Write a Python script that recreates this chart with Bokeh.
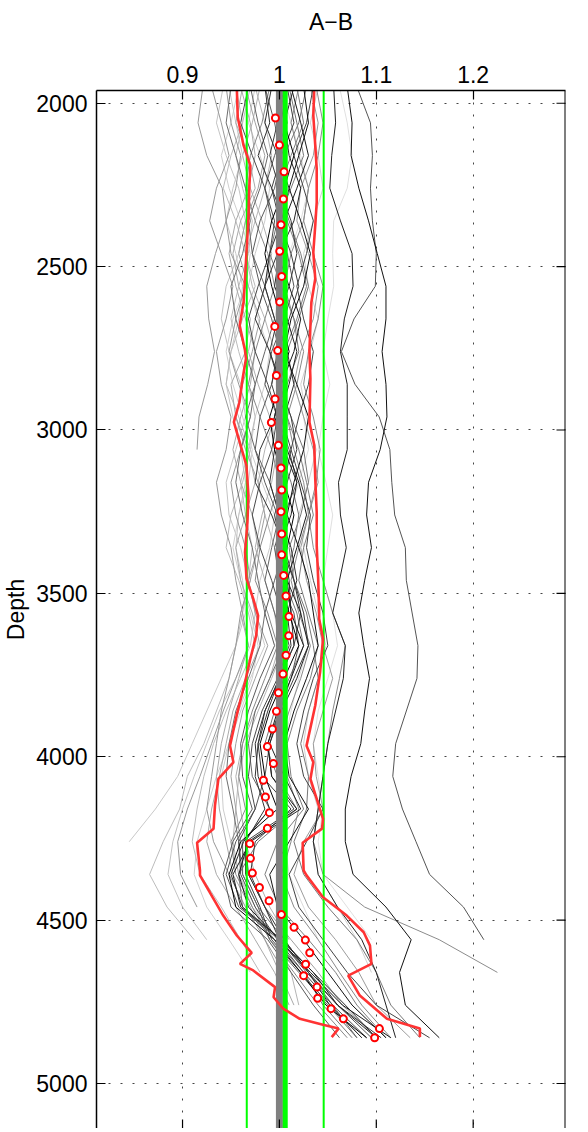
import math
from bokeh.plotting import figure
from bokeh.models import Range1d, FixedTicker, CustomJSTickFormatter, Span
from bokeh.embed import file_html
from bokeh.resources import INLINE

# ---------------- data ----------------
depth_grid = [1950, 2060, 2160, 2260, 2360, 2460, 2560, 2660, 2760, 2860,
              2960, 3060, 3160, 3260, 3360, 3460, 3560, 3660, 3760, 3860,
              3960, 4060, 4160, 4260, 4360, 4460, 4560, 4660, 4760, 4860]

# profile values (A/B ratio x 1000) on depth_grid; None = no data
B01 = [985,990,978,992,1005,998,985,975,990,1002, 995,980,975,992,1005,1010,1012,1015,1000,985, 978,975,985,965,968,985,1005,1030,1052,1085]
B02 = [1010,1018,1025,1012,998,990,1002,1015,1020,1008, 995,1000,1012,1020,1015,1005,1018,1025,1010,995, 985,998,1018,978,958,962,995,1025,1045,1075]
B03 = [962,955,968,975,960,952,958,970,965,950, 955,968,975,965,955,960,972,980,965,952, 945,938,930,925,935,955,975,995,1010,None]
B04 = [1025,1030,1020,1010,1022,1032,1025,1012,1005,1018, 1030,1025,1015,1008,1020,1030,1035,1040,1028,1015, 1005,1010,1030,1010,990,998,1025,1050,1075,1110]
B05 = [945,950,960,955,945,950,965,955,948,958, 970,960,950,955,965,970,960,955,948,940, 935,930,925,932,948,965,985,1005,None,None]
B06 = [1000,1008,995,985,992,1008,1015,1005,992,985, 998,1010,1018,1005,995,1000,1015,1020,1012,1000, 990,985,975,955,945,958,1000,1028,1060,1095]
B07 = [975,968,980,990,985,975,968,978,990,985, 975,970,982,995,990,980,975,985,970,958, 948,940,942,950,958,975,990,None,None,None]
B08 = [1035,1028,1015,1025,1035,1028,1018,1025,1035,1030, 1020,1012,1022,1032,1028,1035,1045,1050,1035,1025, 1018,1025,1045,1028,1010,1020,1045,1070,1100,1155]
B09 = [990,982,970,965,975,988,995,985,975,968, 980,992,1000,990,980,975,988,998,985,972, 962,958,965,950,955,972,990,1015,1040,1070]
B10 = [955,962,950,942,955,965,975,962,950,945, 958,970,962,950,945,958,968,975,960,945, 932,922,915,910,918,940,960,980,None,None]
B11 = [1015,1005,1010,1022,1015,1000,995,1008,1018,1010, 1000,1005,1018,1012,1000,1008,1022,1030,1018,1002, 990,1005,1022,970,952,960,1002,1035,1060,1100]
B12 = [970,978,988,980,968,972,985,995,985,975, 965,975,990,1000,992,985,995,1005,990,975, 968,972,990,962,962,978,990,1020,1050,1080]
B13 = [1040,1032,1040,1045,1035,1025,1030,1040,1032,1022, 1028,1038,1030,1020,1025,1032,1040,1048,1040,1030, 1025,1030,1040,1035,1040,1060,1080,1095,None,None]
B14 = [930,940,948,935,928,940,952,945,935,940, 950,945,935,940,950,955,962,968,955,942, 930,918,905,895,898,915,None,None,None,None]
B15 = [998,1005,1015,1005,992,985,992,1002,1010,1000, 990,995,1005,1015,1008,1000,1010,1020,1005,990, 980,985,998,960,948,955,995,1022,1048,1090]
B16 = [1028,1020,1005,998,1010,1022,1030,1020,1008,1000, 1012,1025,1030,1022,1010,1015,1028,1035,1040,1030, 1022,1030,1028,1015,1025,1050,1080,1100,1115,1145]
B17 = [960,970,975,968,955,948,955,965,975,970, 960,952,960,972,978,970,960,968,958,948, 940,935,938,945,952,970,985,1000,1015,None]
B18 = [1005,998,990,1000,1012,1018,1010,998,990,1000, 1012,1018,1008,998,1005,1015,1022,1015,1000,988, 978,982,1012,975,970,985,1000,1030,1060,1105]
B19 = [942,935,945,958,965,958,945,940,948,960, 965,955,945,948,960,968,975,970,955,938, 925,912,900,890,885,900,925,None,None,None]
B20 = [985,995,1002,995,980,972,980,992,1000,992, 980,975,985,998,1005,995,985,995,980,968, 960,962,972,952,942,950,988,1012,1035,1062]
B21 = [1020,1012,1020,1030,1025,1012,1005,1015,1025,1018, 1008,1015,1025,1030,1020,1012,1020,1032,1022,1010, 1000,1008,1020,1012,1002,1015,1040,1062,1085,1115]
B22 = [975,985,992,985,975,965,972,985,995,1002, 995,985,978,985,995,1002,1010,1005,992,978, 965,958,955,952,958,972,995,1012,1020,None]
B23 = [1012,1022,1030,1018,1005,998,1010,1022,1015,1002, 995,1008,1020,1028,1018,1008,1012,1025,1012,998, 988,992,1018,968,958,968,1000,1032,1065,1115]
B24 = [950,945,955,965,970,962,950,955,965,975, 970,960,955,962,972,978,985,980,968,955, 948,945,952,958,962,978,1005,1030,1055,1080]
B25 = [1002,1012,1022,1030,1022,1010,1002,995,1005,1015, 1025,1030,1020,1010,1005,1015,1025,1030,1020,1012, 1005,1000,1002,1005,1010,1025,1040,None,None,None]
B26 = [968,960,972,985,995,990,978,968,975,988, 998,992,980,972,980,992,1002,1010,998,982, 972,968,975,958,960,975,998,1025,1055,1090]
B27 = [1032,1040,1035,1022,1018,1030,1040,1035,1022,1015, 1025,1035,1040,1030,1022,1028,1038,1045,1055,1045, 1035,1038,1045,1025,1015,1030,1058,1082,1100,1135]
B28 = [958,950,940,948,960,970,965,952,945,952, 962,972,968,958,952,960,970,978,972,960, 948,935,925,915,912,925,948,970,None,None]
B29 = [992,985,998,1010,1002,990,985,995,1008,1015, 1005,995,990,1000,1012,1018,1008,1012,1000,985, 975,978,990,963,950,962,1002,1035,1068,1100]
B30 = [1018,1025,1012,1000,1008,1020,1028,1018,1005,998, 1008,1020,1028,1035,1025,1020,1030,1040,1032,1018, 1008,1012,1025,998,985,1000,1030,1058,1080,1110]
B31 = [980,972,962,970,982,992,985,975,968,978, 990,998,992,982,975,985,995,1000,990,975, 962,955,960,965,975,990,1010,None,None,None]
B32 = [1008,1015,1002,992,1000,1012,1020,1010,998,992, 1002,1012,1005,995,1002,1015,1025,1030,1015,1000, 988,992,1015,965,965,980,992,1022,1052,1085]
B33 = [965,975,985,978,965,958,968,980,972,962, 955,965,978,985,978,968,975,988,975,962, 955,950,955,960,968,985,1012,1040,1065,1100]
B34 = [1062,1070,1075,1070,1056,1055,1056,1050,1045,1052, 1045,1040,1048,1055,1050,1045,1055,1060,1050,1040, 1035,1040,1045,1040,1045,1070,1095,None,None,None]
K1 = [1070,1075,1074,1082,1092,1101,1110,1110,1106,1110, 1111,1104,1092,1090,1095,1088,1082,1087,1093,1088, 1084,1074,1068,1068,1076,1110,1136,1124,1130,1165]
K2 = [1080,1094,1096,1094,1096,1100,1099,1077,1064,1078, 1103,1114,1116,1119,1130,1131,1137,1143,1142,1131, 1120,1117,1127,1141,1155,1190,1211,None,None,None]
K3 = [1056,1058,1054,1052,1063,1075,1076,1067,1063,1070, 1070,1070,1061,1063,1069,1062,1055,1068,1066,1058, 1050,1045,1040,1035,1040,1060,1085,1100,1110,1120]
G3 = [1038,1045,1040,1030,1025,1035,1045,1040,1030,1025, 1035,1042,1038,1030,1035,1045,1055,1068,1062,1055, 1050,1045,1040,1035,1045,1088,1165,1225,None,None]
A1 = [948,955,962,952,945,955,962,958,950,945, 952,960,965,958,955,962,965,955,940,925, 910,895,872,845,None,None,None,None,None,None]
A2 = [970,962,955,962,972,968,958,950,958,968, 975,968,960,965,972,968,962,955,948,935, 922,905,897,880,866,884,912,None,None,None]
G4 = [921,916,925,941,945,934,925,927,933,926, 917,915,None,None,None,None,None,None,None,None, None,None,None,None,None,None,None,None,None,None]

profiles = [B07, B13, B25, B34, B19, B28, A1, A2, B10, B22, B31, B03, B17, B33,
            B05, B14, G4, B27, B09, B21, G3, B02, B16, B30, B24, B12, B20, B06,
            B26, K2, B08, B32, B18, B01, B29, B11, B23, B04, B15, K1, K3]
profile_colors = ["#cccccc", "#d0d0d0", "#dcdcdc", "#e0e0e0", "#c4c4c4", "#cfcfcf", "#c8c8c8", "#bcbcbc",
                  "#bbbbbb", "#b5b5b5", "#b0b0b0", "#aaaaaa", "#aaaaaa", "#a0a0a0", "#999999", "#999999",
                  "#999999", "#9c9c9c", "#888888", "#8a8a8a", "#8c8c8c", "#777777", "#777777", "#7e7e7e",
                  "#6e6e6e", "#666666", "#5a5a5a", "#555555", "#4a4a4a", "#555555", "#444444", "#404040",
                  "#3a3a3a", "#333333", "#2e2e2e", "#222222", "#1a1a1a", "#111111", "#000000", "#111111",
                  "#222222"]

# 10th / 90th percentile envelopes
lo_depth = [1950, 2043, 2129, 2191, 2252, 2354, 2456, 2537, 2609, 2680, 2757, 2782, 2843, 2915,
            2976, 3037, 3109, 3200, 3282, 3374, 3455, 3517, 3568, 3629, 3700, 3772, 3872, 3966,
            4017, 4068, 4149, 4220, 4263, 4348, 4363, 4414, 4486, 4547, 4600, 4634, 4654, 4705,
            4736, 4771, 4802, 4820, 4832, 4858]
lo_x = [0.956, 0.957, 0.963, 0.970, 0.969, 0.968, 0.966, 0.9645, 0.963, 0.959, 0.9645, 0.9655, 0.962, 0.9587,
        0.953, 0.959, 0.966, 0.968, 0.967, 0.9645, 0.966, 0.973, 0.978, 0.976, 0.970, 0.9645, 0.956, 0.949,
        0.9525, 0.937, 0.9335, 0.932, 0.915, 0.918, 0.918, 0.928, 0.942, 0.956, 0.9714, 0.9593, 0.973, 0.9955,
        0.994, 1.004, 1.021, 1.045, 1.061, 1.054]
hi_depth = [1950, 2038, 2129, 2201, 2303, 2374, 2456, 2537, 2609, 2680, 2757, 2843, 2976, 3047,
            3149, 3252, 3354, 3455, 3552, 3578, 3639, 3741, 3843, 3966, 4017, 4068, 4129, 4190,
            4220, 4263, 4348, 4363, 4430, 4486, 4537, 4578, 4634, 4670, 4731, 4802, 4832, 4858]
hi_x = [1.036, 1.035, 1.037, 1.0385, 1.0385, 1.037, 1.035, 1.037, 1.033, 1.032, 1.031, 1.032, 1.031, 1.036,
        1.037, 1.0385, 1.0385, 1.040, 1.041, 1.041, 1.045, 1.042, 1.037, 1.028, 1.035, 1.032, 1.0385, 1.045,
        1.044, 1.024, 1.025, 1.028, 1.045, 1.0695, 1.087, 1.0935, 1.095, 1.071, 1.083, 1.111, 1.145, 1.145]

# median points
med_depth = [2045, 2128, 2210, 2293, 2372, 2453, 2530, 2608, 2683, 2757, 2833, 2905, 2977, 3047,
             3116, 3184, 3250, 3318, 3382, 3445, 3508, 3571, 3630, 3689, 3747, 3804, 3861, 3915,
             3969, 4021, 4072, 4123, 4171, 4219, 4266, 4311, 4356, 4400, 4441, 4483, 4522, 4561,
             4600, 4635, 4670, 4705, 4739, 4771, 4802, 4832, 4860]
med_x = [0.9959, 1.0000, 1.0048, 1.0041, 1.0017, 1.0003, 1.0024, 1.0003, 0.9952, 0.9982, 0.9969, 0.9955,
         0.9917, 0.9990, 1.0017, 1.0024, 1.0017, 1.0024, 1.0024, 1.0044, 1.0068, 1.0099, 1.0096, 1.0068,
         1.0037, 0.9990, 0.9969, 0.9928, 0.9876, 0.9938, 0.9835, 0.9856, 0.9897, 0.9876, 0.9694, 0.9701,
         0.9721, 0.9794, 0.9893, 1.0021, 1.0151, 1.0268, 1.0313, 1.0271, 1.0250, 1.0388, 1.0395, 1.0533,
         1.0660, 1.1032, 1.0983]

ref_x = 1.0        # reference ratio
mean_x = 1.006     # overall mean
std_lo_x = 0.9663  # mean - std
std_hi_x = 1.0457  # mean + std

x_ticks = [0.9, 1.0, 1.1, 1.2]
y_ticks = [2000, 2500, 3000, 3500, 4000, 4500, 5000]
x_min, x_max = 0.8112, 1.2953
depth_top, depth_bottom = 1961, 5137.7

# ---------------- figure ----------------
FONT = "Liberation Sans"
p = figure(width=584, height=1128, output_backend="svg", toolbar_location=None,
           x_range=Range1d(x_min, x_max), y_range=Range1d(depth_bottom, depth_top),
           x_axis_location="above", y_axis_location="left",
           min_border_left=96, min_border_right=19, min_border_top=90, min_border_bottom=0)
p.outline_line_color = None
p.background_fill_color = "white"
p.border_fill_color = "white"

xs, ys = [], []
for prof in profiles:
    px, py = [], []
    for d, v in zip(depth_grid, prof):
        if v is not None:
            px.append(v / 1000.0)
            py.append(d)
    xs.append(px)
    ys.append(py)
p.multi_line(xs, ys, line_color=profile_colors, line_width=1.0)

# vertical reference lines
p.segment(x0=[ref_x], y0=[depth_top - 50], x1=[ref_x], y1=[depth_bottom + 50],
          line_color="#808080", line_width=7)
p.segment(x0=[mean_x], y0=[depth_top - 50], x1=[mean_x], y1=[depth_bottom + 50],
          line_color="#00ff00", line_width=5)
p.segment(x0=[std_lo_x, std_hi_x], y0=[depth_top - 50] * 2, x1=[std_lo_x, std_hi_x],
          y1=[depth_bottom + 50] * 2, line_color="#00ff00", line_width=2)

# percentile envelopes
p.line(lo_x, lo_depth, line_color="#ff3333", line_width=2.6)
p.line(hi_x, hi_depth, line_color="#ff3333", line_width=2.6)

# medians
p.scatter(med_x, med_depth, marker="circle", size=7, line_color="#ff0000",
          line_width=2, fill_color="white")

# inward tick marks on the right and bottom edges (half of each dash is clipped)
p.scatter([x_max] * len(y_ticks), y_ticks, marker="dash", size=18,
          line_color="black", line_width=1.2)
p.scatter(x_ticks, [depth_bottom] * len(x_ticks), marker="dash", size=18, angle=math.pi / 2,
          line_color="black", line_width=1.2)

# right border of the box
p.add_layout(Span(location=x_max, dimension="height", line_color="black", line_width=2))

# ---------------- axes ----------------
fmt = CustomJSTickFormatter(code="return String(tick);")

def style_axis(ax):
    ax.axis_line_color = "black"
    ax.axis_line_width = 1.5
    ax.major_tick_in = 9
    ax.major_tick_out = 0
    ax.major_tick_line_color = "black"
    ax.major_tick_line_width = 1.2
    ax.minor_tick_line_color = None
    ax.major_label_text_font = FONT
    ax.major_label_text_color = "black"
    ax.major_label_text_font_size = "23px"
    ax.axis_label_text_font = FONT
    ax.axis_label_text_font_style = "normal"
    ax.axis_label_text_color = "black"
    ax.axis_label_text_font_size = "23px"

xa = p.xaxis[0]
xa.ticker = FixedTicker(ticks=x_ticks)
xa.formatter = fmt
style_axis(xa)
xa.major_label_standoff = 8
xa.axis_label = "A\u2212B"
xa.axis_label_standoff = 28

ya = p.yaxis[0]
ya.ticker = FixedTicker(ticks=y_ticks)
style_axis(ya)
ya.major_label_standoff = 9
ya.axis_label = "Depth"
ya.axis_label_standoff = 4

for g in (p.xgrid[0], p.ygrid[0]):
    g.grid_line_color = "#444444"
    g.grid_line_dash = "2 10"
    g.grid_line_width = 1
p.xgrid[0].ticker = FixedTicker(ticks=x_ticks)
p.ygrid[0].ticker = FixedTicker(ticks=y_ticks)

open("out.html", "w").write(file_html(p, INLINE))
